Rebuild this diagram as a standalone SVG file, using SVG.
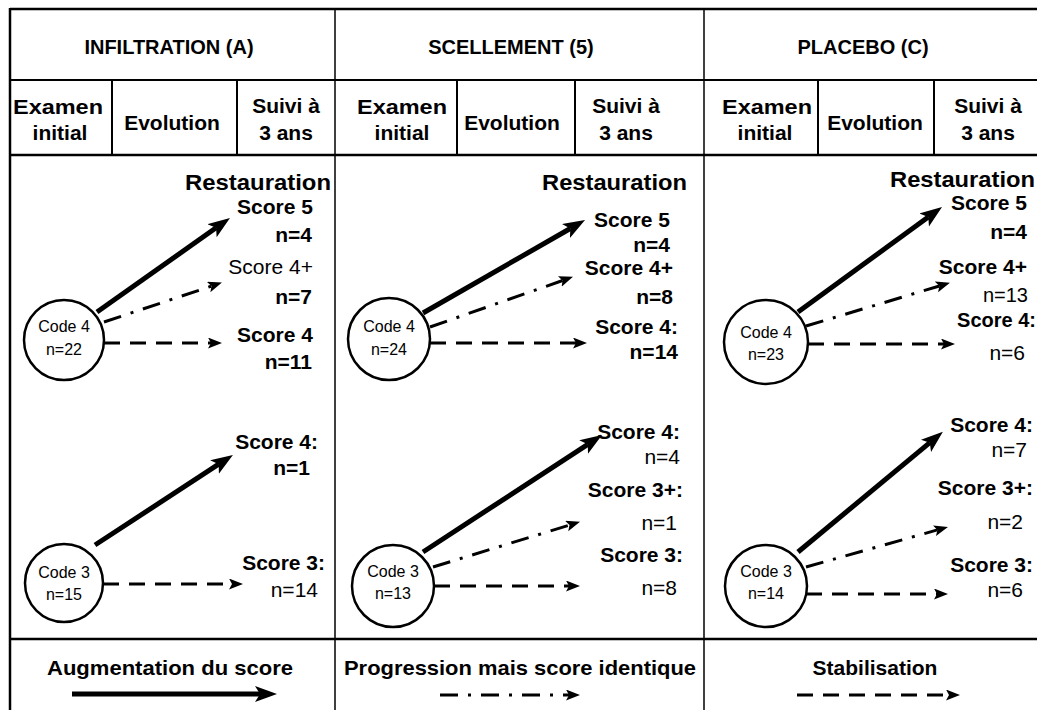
<svg xmlns="http://www.w3.org/2000/svg" width="1037" height="710" viewBox="0 0 1037 710">
<style>
text{font-family:"Liberation Sans",Arial,sans-serif;fill:#000}
.t{font-size:20px;font-weight:bold;text-anchor:middle}
.h{font-size:21px;font-weight:bold;text-anchor:middle}
.r{font-size:22px;font-weight:bold}
.s{font-size:21px;font-weight:bold;text-anchor:end}
.sn{font-size:21px;font-weight:normal;text-anchor:end}
.c{font-size:16px;text-anchor:middle}
.lg{font-size:21px;font-weight:bold;text-anchor:middle}
.grid{stroke:#000;fill:none}
.node{fill:#fff;stroke:#000;stroke-width:2.5}
.solid{stroke:#000;stroke-width:5;fill:none;marker-end:url(#big)}
.dd{stroke:#000;stroke-width:3;fill:none;stroke-dasharray:18 10 3 10;marker-end:url(#small)}
.da{stroke:#000;stroke-width:3;fill:none;stroke-dasharray:16 10;marker-end:url(#small)}
</style>
<defs>
<marker id="big" markerUnits="userSpaceOnUse" markerWidth="24" markerHeight="18" refX="5" refY="8" orient="auto" viewBox="0 0 24 18">
<path d="M0,0 L22,8 L0,16 L5,8 z" fill="#000"/>
</marker>
<marker id="small" markerUnits="userSpaceOnUse" markerWidth="16" markerHeight="13" refX="3" refY="5.5" orient="auto" viewBox="0 0 16 13">
<path d="M0,0 L14,5.5 L0,11 L3,5.5 z" fill="#000"/>
</marker>
</defs>
<rect width="1037" height="710" fill="#fff"/>

<g id="grid" class="grid">
<line x1="10" y1="9" x2="1037" y2="9" stroke-width="2.5"/>
<line x1="10" y1="80" x2="1037" y2="80" stroke-width="2"/>
<line x1="10" y1="155" x2="1037" y2="155" stroke-width="2.5"/>
<line x1="10" y1="639" x2="1037" y2="639" stroke-width="2.5"/>
<line x1="10" y1="8" x2="10" y2="710" stroke-width="2.5"/>
<line x1="335" y1="9" x2="335" y2="710" stroke-width="1.5"/>
<line x1="704" y1="9" x2="704" y2="710" stroke-width="1.5"/>
<line x1="112" y1="80" x2="112" y2="155" stroke-width="2"/>
<line x1="237" y1="80" x2="237" y2="155" stroke-width="2"/>
<line x1="457" y1="80" x2="457" y2="155" stroke-width="2"/>
<line x1="575" y1="80" x2="575" y2="155" stroke-width="2"/>
<line x1="818" y1="80" x2="818" y2="155" stroke-width="2"/>
<line x1="934" y1="80" x2="934" y2="155" stroke-width="2"/>
</g>

<g id="headers">
<text class="t" x="169" y="54">INFILTRATION (A)</text>
<text class="t" x="511" y="54">SCELLEMENT (5)</text>
<text class="t" x="863" y="54">PLACEBO (C)</text>
<text class="h" x="58" y="114" textLength="90" lengthAdjust="spacingAndGlyphs">Examen</text>
<text class="h" x="60" y="140">initial</text>
<text class="h" x="172" y="130">Evolution</text>
<text class="h" x="286" y="113">Suivi à</text>
<text class="h" x="286" y="140">3 ans</text>
<text class="h" x="402" y="114" textLength="90" lengthAdjust="spacingAndGlyphs">Examen</text>
<text class="h" x="402" y="140">initial</text>
<text class="h" x="512" y="130">Evolution</text>
<text class="h" x="626" y="113">Suivi à</text>
<text class="h" x="626" y="140">3 ans</text>
<text class="h" x="767" y="114" textLength="90" lengthAdjust="spacingAndGlyphs">Examen</text>
<text class="h" x="765" y="140">initial</text>
<text class="h" x="875" y="130">Evolution</text>
<text class="h" x="988" y="113">Suivi à</text>
<text class="h" x="988" y="140">3 ans</text>
</g>

<g id="connectors">
<line class="solid" x1="97" y1="312" x2="216.1" y2="227.8"/>
<line class="dd" x1="104" y1="322" x2="211.5" y2="286.1"/>
<line class="da" x1="104" y1="343" x2="211" y2="343"/>
<line class="solid" x1="95" y1="545" x2="218.7" y2="464.2"/>
<line class="da" x1="103" y1="584" x2="232" y2="584"/>
<line class="solid" x1="423" y1="313" x2="570.3" y2="228.5"/>
<line class="dd" x1="430" y1="327" x2="562.6" y2="280.5"/>
<line class="da" x1="430" y1="343" x2="576" y2="343"/>
<line class="solid" x1="423" y1="552" x2="587.8" y2="444.3"/>
<line class="dd" x1="433" y1="567" x2="569.5" y2="525.1"/>
<line class="da" x1="434" y1="586" x2="569" y2="586"/>
<line class="solid" x1="798" y1="312" x2="928.3" y2="217"/>
<line class="dd" x1="806" y1="326" x2="939.4" y2="286"/>
<line class="da" x1="808" y1="344" x2="944" y2="344"/>
<line class="solid" x1="798" y1="552" x2="929.8" y2="442.7"/>
<line class="dd" x1="806" y1="567" x2="937.4" y2="529.9"/>
<line class="da" x1="806" y1="594" x2="937" y2="594"/>
<line class="solid" x1="72" y1="694" x2="260" y2="694"/>
<line class="dd" x1="440" y1="695" x2="569" y2="695"/>
<line class="da" x1="797" y1="695" x2="949" y2="695"/>
</g>

<g id="node-a4"><circle class="node" cx="64" cy="340" r="40"/><text class="c" x="64" y="332">Code 4</text><text class="c" x="64" y="355">n=22</text></g>
<g id="node-a3"><circle class="node" cx="64" cy="583" r="39"/><text class="c" x="64" y="578">Code 3</text><text class="c" x="64" y="600">n=15</text></g>
<g id="node-s4"><circle class="node" cx="389" cy="339" r="41"/><text class="c" x="389" y="332">Code 4</text><text class="c" x="389" y="355">n=24</text></g>
<g id="node-s3"><circle class="node" cx="393" cy="586" r="41"/><text class="c" x="393" y="577">Code 3</text><text class="c" x="393" y="599">n=13</text></g>
<g id="node-p4"><circle class="node" cx="766" cy="342" r="42"/><text class="c" x="766" y="338">Code 4</text><text class="c" x="766" y="360">n=23</text></g>
<g id="node-p3"><circle class="node" cx="766" cy="586" r="41"/><text class="c" x="766" y="577">Code 3</text><text class="c" x="766" y="599">n=14</text></g>

<g id="labels-a">
<text class="r" x="185" y="190" textLength="146" lengthAdjust="spacingAndGlyphs">Restauration</text>
<text class="s" x="313" y="214">Score 5</text>
<text class="s" x="312" y="242">n=4</text>
<text class="sn" x="313" y="274">Score 4+</text>
<text class="s" x="312" y="304">n=7</text>
<text class="s" x="313" y="342">Score 4</text>
<text class="s" x="312" y="369">n=11</text>
<text class="s" x="318" y="449">Score 4:</text>
<text class="s" x="310" y="475">n=1</text>
<text class="s" x="325" y="570">Score 3:</text>
<text class="sn" x="318" y="597">n=14</text>
</g>
<g id="labels-s">
<text class="r" x="542" y="190" textLength="145" lengthAdjust="spacingAndGlyphs">Restauration</text>
<text class="s" x="670" y="227">Score 5</text>
<text class="s" x="670" y="252">n=4</text>
<text class="s" x="673" y="275">Score 4+</text>
<text class="s" x="673" y="304">n=8</text>
<text class="s" x="678" y="334">Score 4:</text>
<text class="s" x="678" y="359">n=14</text>
<text class="s" x="680" y="439">Score 4:</text>
<text class="sn" x="680" y="464">n=4</text>
<text class="s" x="683" y="497">Score 3+:</text>
<text class="sn" x="677" y="530">n=1</text>
<text class="s" x="683" y="562">Score 3:</text>
<text class="sn" x="677" y="595">n=8</text>
</g>
<g id="labels-p">
<text class="r" x="890" y="187" textLength="145" lengthAdjust="spacingAndGlyphs">Restauration</text>
<text class="s" x="1027" y="210">Score 5</text>
<text class="s" x="1027" y="239">n=4</text>
<text class="s" x="1027" y="274">Score 4+</text>
<text class="sn" x="1028" y="302" style="font-size:20px">n=13</text>
<text class="s" x="1036" y="327" style="font-size:20px">Score 4:</text>
<text class="sn" x="1025" y="360">n=6</text>
<text class="s" x="1033" y="432">Score 4:</text>
<text class="sn" x="1027" y="457">n=7</text>
<text class="s" x="1033" y="495">Score 3+:</text>
<text class="sn" x="1023" y="529">n=2</text>
<text class="s" x="1033" y="572">Score 3:</text>
<text class="sn" x="1023" y="597">n=6</text>
</g>

<g id="legend">
<text class="lg" x="170" y="675" textLength="246" lengthAdjust="spacingAndGlyphs">Augmentation du score</text>
<text class="lg" x="520" y="675" textLength="352" lengthAdjust="spacingAndGlyphs">Progression mais score identique</text>
<text class="lg" x="875" y="675">Stabilisation</text>
</g>
</svg>
